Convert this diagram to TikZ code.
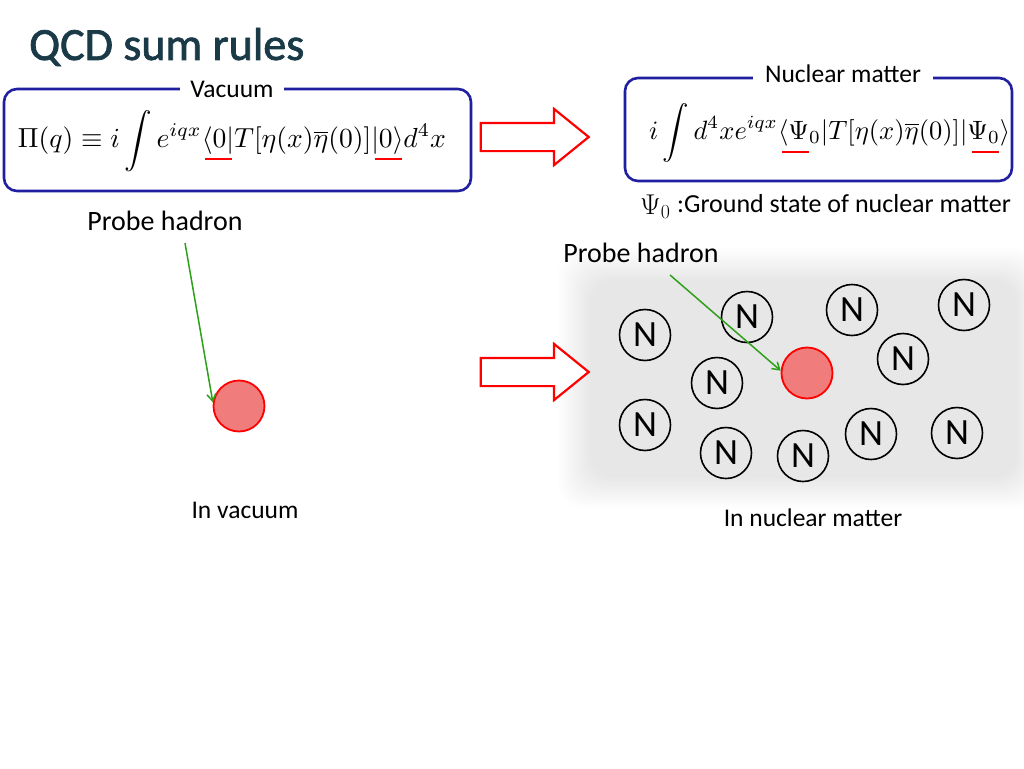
\documentclass[tikz,border=0pt]{standalone}
\usepackage{fontspec}
\setmainfont{Carlito}
\newfontfamily\titlefont[FakeBold=1.6]{Carlito}
\usetikzlibrary{shapes.arrows,arrows.meta}
\definecolor{boxblue}{HTML}{1F1FA0}
\definecolor{titlecol}{HTML}{1A3A48}
\definecolor{hadfill}{HTML}{F07C7C}
\definecolor{probegreen}{HTML}{2EA01A}
\begin{document}
\begin{tikzpicture}[x=1pt,y=-1pt,
  lbl/.style={font=\fontsize{28}{32}\selectfont, inner sep=0pt},
  small/.style={font=\fontsize{25.5}{30}\selectfont, inner sep=0pt},
  nuc/.style={circle, draw=black, line width=1.6pt, minimum size=51pt, inner sep=0pt,
              font=\fontsize{37}{37}\selectfont},
  had/.style={circle, draw=red, fill=hadfill, line width=1.8pt, minimum size=51pt, inner sep=0pt},
  eqbox/.style={draw=boxblue, line width=2.6pt, rounded corners=13pt, inner sep=0pt},
  bigarrow/.style={single arrow, draw=red, line width=2.2pt, fill=white,
    minimum height=108pt, text width=0pt, text height=0pt, text depth=0pt,
    inner xsep=0pt, inner ysep=13pt, single arrow head extend=14pt,
    single arrow tip angle=78, shape border rotate=0},
  probe/.style={draw=probegreen, line width=1.5pt, -{Straight Barb[length=7pt,width=9pt]}},
  uline/.style={draw=red, line width=1.6pt}]
\useasboundingbox (0,0) rectangle (1024,768);
\fill[white] (0,0) rectangle (1024,768);

% title
\node (title) [anchor=west, inner sep=0pt, text=titlecol, font=\titlefont\fontsize{46}{50}\selectfont]
  at (29,47) {QCD sum rules};

% gray matter region (soft edges)
\foreach \i in {0,...,23}{
  \fill[black, opacity=0.0044, rounded corners=24pt]
    (558+1.4*\i,248+1.4*\i) rectangle (1040-1.0*\i,508-1.3*\i);}

% vacuum box
\node (vbox) [eqbox, minimum width=467pt, minimum height=102pt] at (237.5,140) {};
\node (vlab) [small, fill=white, inner xsep=10pt, inner ysep=2pt] at (232,89) {Vacuum};
\node (veq) [inner sep=0pt] at (232,141)
  {\resizebox{428pt}{!}{$\displaystyle\Pi(q)\equiv i\int e^{iqx}\langle 0|T[\eta(x)\overline{\eta}(0)]|0\rangle d^4x$}};
\draw[uline] (205,159) -- (232,159);
\draw[uline] (375,159) -- (402,159);

% nuclear matter box
\node (nbox) [eqbox, minimum width=387pt, minimum height=103pt] at (818.5,129.5) {};
\node (nlab) [small, fill=white, inner xsep=12pt, inner ysep=2pt] at (843,74) {Nuclear matter};
\node (neq) [anchor=west, inner sep=0pt] at (649,133)
  {\resizebox{361pt}{!}{$\displaystyle i\int d^4x e^{iqx}\langle \Psi_0|T[\eta(x)\overline{\eta}(0)]|\Psi_0\rangle$}};
\draw[uline] (782,152) -- (809,152);
\draw[uline] (972,152) -- (999,152);

\node (psi) [anchor=west, inner sep=0pt] at (640,207) {\scalebox{1.15}{\fontsize{25}{30}\selectfont$\Psi_0$}};
\node (gs) [anchor=west, inner sep=0pt, font=\fontsize{26}{30}\selectfont] at (677,204)
  {:Ground state of nuclear matter};

% big arrows
\node (arr1) [bigarrow] at (526,137) {};
\node (arr2) [bigarrow] at (526,372) {};

% vacuum side
\node (ph1) [lbl] at (165,221) {Probe hadron};
\node (h1) [had] at (239,406) {};
\coordinate (p1s) at (185,243);
\draw[probe] (p1s) -- (h1.172);
\node (iv) [small] at (245,510) {In vacuum};

% nuclear side
\node (ph2) [lbl] at (641,253) {Probe hadron};
\node (n1) [nuc] at (645,335) {N};
\node (n2) [nuc] at (747,317) {N};
\node (n3) [nuc] at (852,310) {N};
\node (n4) [nuc] at (964,305) {N};
\node (n5) [nuc] at (717,383) {N};
\node (n6) [nuc] at (903,359) {N};
\node (n7) [nuc] at (645,425) {N};
\node (n8) [nuc] at (726,453) {N};
\node (n9) [nuc] at (803,456) {N};
\node (n10) [nuc] at (871,434) {N};
\node (n11) [nuc] at (957,433) {N};
\node (h2) [had] at (807,373) {};
\coordinate (p2s) at (670,275);
\draw[probe] (p2s) -- (h2.175);
\node (inm) [small] at (813,518) {In nuclear matter};
\end{tikzpicture}
\end{document}
